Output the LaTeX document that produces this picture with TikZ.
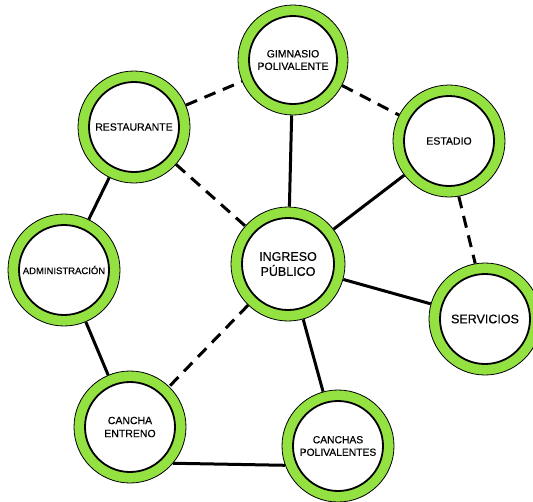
\documentclass[tikz,border=0pt]{standalone}
\usepackage{fontspec}
\setmainfont{Liberation Sans}
\newfontfamily\lblfont{Liberation Sans}[FakeBold=0.4]
\definecolor{ringgreen}{RGB}{148,226,66}
\tikzset{
  place/.style={circle, draw=black, line width=0.8pt, fill=ringgreen, inner sep=0pt,
    minimum size=2*#1, align=center,
    path picture={\draw[fill=white, line width=1.8pt] (path picture bounding box.center) circle ({#1-11pt});}},
  solidlink/.style={line width=3pt},
  dashlink/.style={line width=3pt, dash pattern=on 12pt off 8pt}
}
\begin{document}
\begin{tikzpicture}[x=1pt,y=-1pt]
\useasboundingbox (0,0) rectangle (533,501);
\node[place=55pt, font=\lblfont\fontsize{10.5}{12.5}\selectfont] (gim) at (293,60) {GIMNASIO\\POLIVALENTE};
\node[place=56pt, font=\lblfont\fontsize{10.5}{12.5}\selectfont] (rest) at (134,127) {RESTAURANTE};
\node[place=56pt, font=\lblfont\fontsize{10.5}{12.5}\selectfont] (est) at (449,141) {ESTADIO};
\node[place=56pt, font=\lblfont\fontsize{9.5}{11.5}\selectfont] (adm) at (64,270) {ADMINISTRACIÓN};
\node[place=57pt, font=\lblfont\fontsize{12.5}{15}\selectfont] (ing) at (288,264) {INGRESO\\PÚBLICO};
\node[place=56pt, font=\lblfont\fontsize{12.5}{15}\selectfont] (serv) at (485,319) {SERVICIOS};
\node[place=56pt, font=\lblfont\fontsize{10.5}{13}\selectfont] (ce) at (130,427) {CANCHA\\ENTRENO};
\node[place=56pt, font=\lblfont\fontsize{10.3}{12.5}\selectfont] (cp) at (338,446) {CANCHAS\\POLIVALENTES};

\draw[dashlink] (rest) -- (gim);
\draw[dashlink] (gim) -- (est);
\draw[solidlink] (gim) -- (ing);
\draw[dashlink] (rest) -- (ing);
\draw[solidlink] (rest) -- (adm);
\draw[solidlink] (est) -- (ing);
\draw[dashlink] (est.-80) -- (serv.100);
\draw[solidlink] (ing) -- (serv);
\draw[solidlink] (ing) -- (cp);
\draw[dashlink] (ing) -- (ce);
\draw[solidlink] (adm) -- (ce);
\draw[solidlink] (ce.-40) -- (cp.200);
\end{tikzpicture}
\end{document}
